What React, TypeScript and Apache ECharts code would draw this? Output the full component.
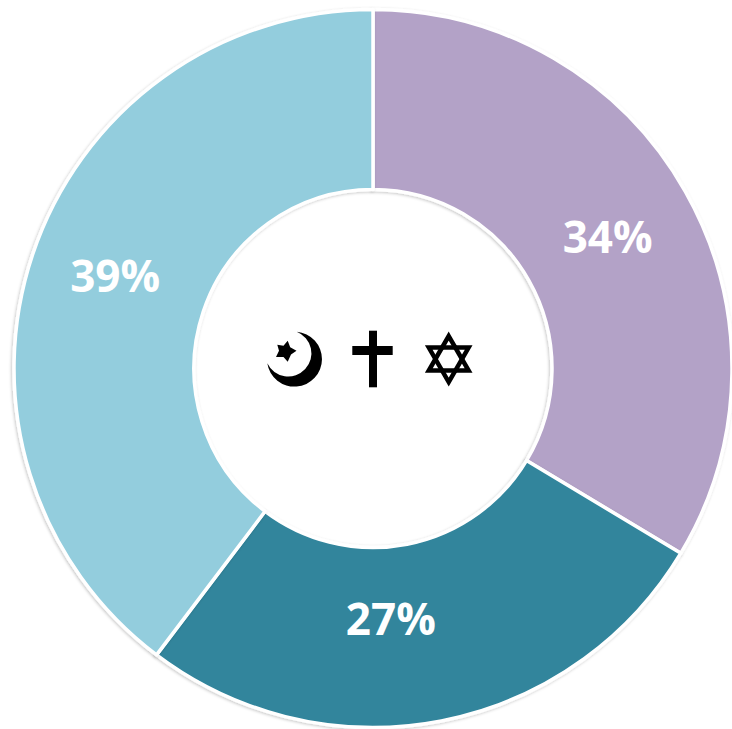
import React, { useEffect, useRef } from "react";
import * as echarts from "echarts";

const categories = ["Judaism", "Christianity", "Islam"];
const shares = [33.6, 26.7, 39.7];
const shareLabels = ["34%", "27%", "39%"];
const colours = ["#B3A2C7", "#31859C", "#93CDDD"];
const labelOffsets = [[-2, 2], [-34, -18], [0, -7]];

echarts.graphic.registerShape(
  "crescent",
  echarts.graphic.extendPath("M296.7 331.7 A27.5 27.5 0 1 1 267.3 363.3 A23.2 23.2 0 1 0 296.7 331.7 Z", {})
);
echarts.graphic.registerShape(
  "fivestar",
  echarts.graphic.extendPath(
    "M287.7 340.7 L290.2 347.2 L296.5 350.7 L291 354.4 L287.7 361.7 L283.5 357 L276 356.9 L279 350.7 L277.3 344.7 L283.5 345.7 Z",
    {}
  )
);

const App = () => {
  const ref = useRef<HTMLDivElement>(null);
  useEffect(() => {
    const chart = echarts.init(ref.current!, null, { renderer: "svg" });
    const cx = 448.7, cy = 359, r = 23;
    const dx = r * Math.cos(Math.PI / 6), dy = r / 2;
    const triStyle = { fill: "none", stroke: "#000", lineWidth: 4.5, lineJoin: "miter", miterLimit: 10 };
    chart.setOption({
      animation: false,
      backgroundColor: "#fff",
      series: [
        {
          type: "pie",
          center: [373, 368.5],
          radius: [179, 359],
          startAngle: 90,
          clockwise: true,
          silent: true,
          labelLine: { show: false },
          itemStyle: {
            borderColor: "#fff",
            borderWidth: 3.5,
            shadowColor: "rgba(0,0,0,0.22)",
            shadowBlur: 3,
            shadowOffsetX: -1,
            shadowOffsetY: 1,
          },
          data: categories.map((name, i) => ({
            name,
            value: shares[i],
            itemStyle: { color: colours[i] },
            label: {
              show: true,
              position: "inside",
              formatter: shareLabels[i],
              offset: labelOffsets[i],
              color: "#fff",
              fontFamily: "Open Sans",
              fontWeight: "bold",
              fontSize: 44,
            },
          })),
        },
      ],
      graphic: [
        { type: "crescent", style: { fill: "#000" } },
        { type: "fivestar", style: { fill: "#000" } },
        { type: "rect", shape: { x: 369, y: 330.7, width: 8, height: 56.6 }, style: { fill: "#000" } },
        { type: "rect", shape: { x: 352.3, y: 346, width: 40.4, height: 9 }, style: { fill: "#000" } },
        {
          type: "polygon",
          shape: { points: [[cx, cy - r], [cx + dx, cy + dy], [cx - dx, cy + dy]] },
          style: triStyle,
        },
        {
          type: "polygon",
          shape: { points: [[cx, cy + r], [cx + dx, cy - dy], [cx - dx, cy - dy]] },
          style: triStyle,
        },
      ],
    });
    return () => chart.dispose();
  }, []);
  return <div ref={ref} style={{ position: "fixed", left: 0, top: 0, width: 732, height: 729 }} />;
};

export default App;
